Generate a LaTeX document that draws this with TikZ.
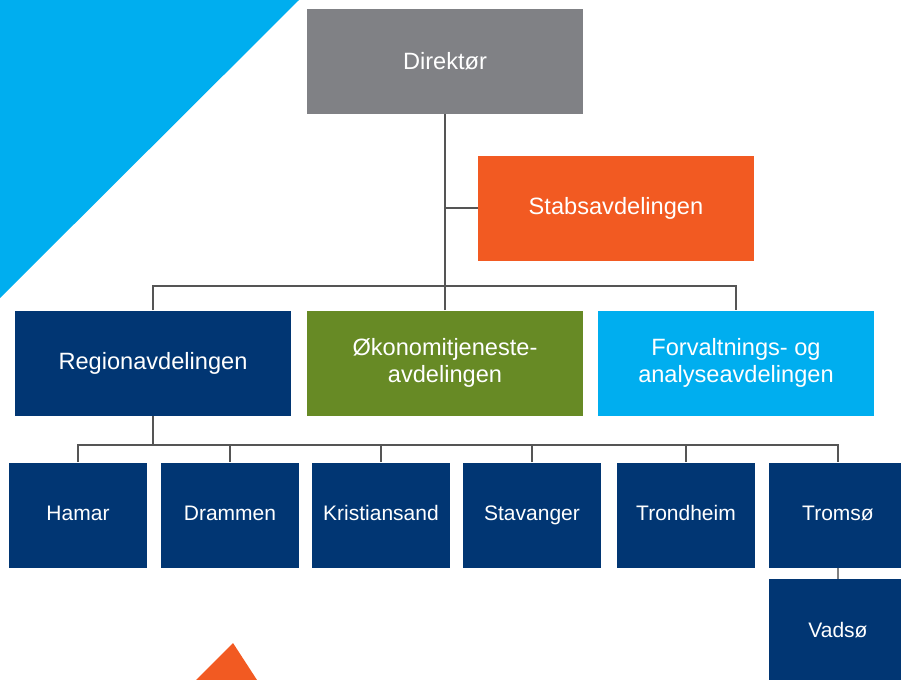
\documentclass[tikz,border=0pt]{standalone}
\usepackage{fontspec}
\setmainfont{Liberation Sans}

\definecolor{dirgray}{RGB}{128,129,133}
\definecolor{stabred}{RGB}{242,90,34}
\definecolor{regblue}{RGB}{1,54,115}
\definecolor{okgreen}{RGB}{103,138,37}
\definecolor{skyblue}{RGB}{0,174,239}
\definecolor{linegray}{RGB}{85,85,85}

\begin{document}
\begin{tikzpicture}[x=0.5pt, y=-0.5pt,
    unit/.style={rectangle, inner sep=0pt, text=white, align=center,
      minimum width=138pt, minimum height=52.5pt,
      font=\fontsize{11.8}{13.5}\selectfont},
    office/.style={unit, fill=regblue, minimum width=69pt,
      text height=0.75em, text depth=0.2em,
      font=\fontsize{10.5}{12.6}\selectfont},
    link/.style={draw=linegray, line width=0.8pt}]
        \clip (0,0) rectangle (901,680);
        \fill [skyblue] (0,0) -- (299,0) -- (0,298) -- cycle;
        \fill [stabred] (233,643) -- (270,700) -- (176,700) -- cycle;

        \node [unit, fill=dirgray] (dir) at (445,61.5) {Direktør};
        \node [unit, fill=stabred] (stab) at (616,208) {Stabsavdelingen};
        \node [unit, fill=regblue] (reg) at (153,363) {Regionavdelingen};
        \node [unit, fill=okgreen] (okon) at (445,363) {Økonomitjeneste-\\avdelingen};
        \node [unit, fill=skyblue] (forv) at (736,363) {Forvaltnings- og\\analyseavdelingen};

        \node [office] (hamar) at (78,515) {Hamar};
        \node [office] (drammen) at (230,515) {Drammen};
        \node [office] (kristiansand) at (381,515) {Kristiansand};
        \node [office] (stavanger) at (532,515) {Stavanger};
        \node [office] (trondheim) at (686,515) {Trondheim};
        \node [office] (tromso) at (838,515) {Tromsø};
        \node [office] (vadso) at (838,631.5) {Vadsø};

        \coordinate (top bus) at (445,286);
        \coordinate (region bus) at (153,445);

        \draw [link] (dir) -- (top bus);
        \draw [link] (stab) -- (dir |- stab);
        \draw [link] (reg) |- (top bus) -| (forv);
        \draw [link] (okon) -- (top bus);

        \draw [link] (reg) -- (region bus);
        \draw [link] (hamar) |- (region bus) -| (tromso);
        \draw [link] (drammen) -- (drammen |- region bus);
        \draw [link] (kristiansand) -- (kristiansand |- region bus);
        \draw [link] (stavanger) -- (stavanger |- region bus);
        \draw [link] (trondheim) -- (trondheim |- region bus);
        \draw [link, draw=gray] (tromso) -- (vadso);
      \end{tikzpicture}
\end{document}
